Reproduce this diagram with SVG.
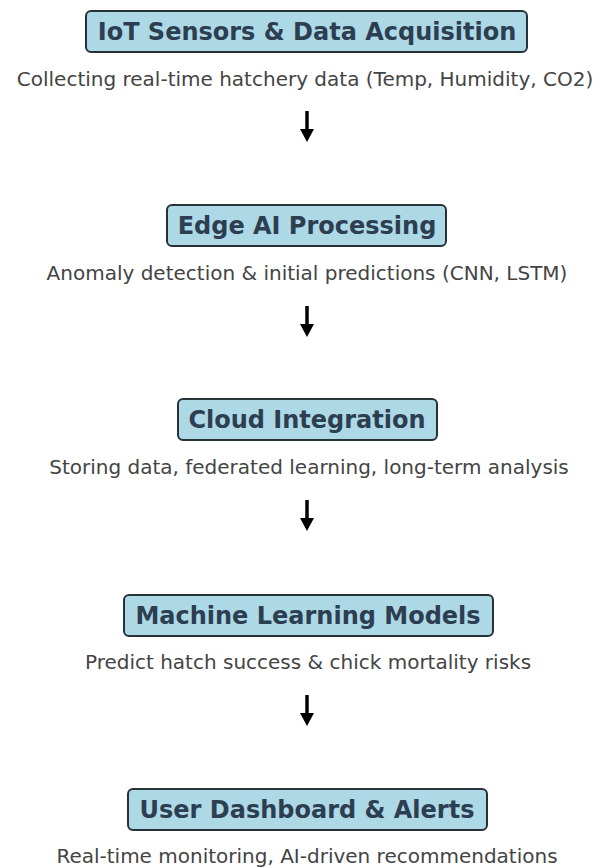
<svg xmlns="http://www.w3.org/2000/svg" width="600" height="868" viewBox="0 0 600 868">
<style>
.box{fill:#add8e6;stroke:#263238;stroke-width:2}
.title{font-family:"DejaVu Sans",sans-serif;font-weight:bold;font-size:24px;fill:#2c3e50;text-anchor:middle}
.sub{font-family:"DejaVu Sans",sans-serif;font-size:20px;fill:#444444;text-anchor:middle}
.shaft{stroke:#000;stroke-width:3.5}
</style>
<defs>
<marker id="ah" markerWidth="14" markerHeight="13" refX="7" refY="1" orient="0" markerUnits="userSpaceOnUse" viewBox="0 0 14 13">
<path d="M0,0 L14,0 L7,13 Z" fill="#000"/>
</marker>
</defs>
<rect width="600" height="868" fill="#ffffff"/>
<g id="node1">
<rect class="box" x="86" y="11" width="441" height="41" rx="5"/>
<text class="title" x="307" y="40">IoT Sensors &amp; Data Acquisition</text>
<text class="sub" x="305" y="86">Collecting real-time hatchery data (Temp, Humidity, CO2)</text>
</g>
<g id="node2">
<rect class="box" x="167" y="205" width="279" height="41" rx="5"/>
<text class="title" x="307" y="234">Edge AI Processing</text>
<text class="sub" x="307" y="280">Anomaly detection &amp; initial predictions (CNN, LSTM)</text>
</g>
<g id="node3">
<rect class="box" x="178" y="399" width="259" height="41" rx="5"/>
<text class="title" x="307" y="428">Cloud Integration</text>
<text class="sub" x="309" y="474">Storing data, federated learning, long-term analysis</text>
</g>
<g id="node4">
<rect class="box" x="124" y="595" width="369" height="41" rx="5"/>
<text class="title" x="308" y="624">Machine Learning Models</text>
<text class="sub" x="308" y="669">Predict hatch success &amp; chick mortality risks</text>
</g>
<g id="node5">
<rect class="box" x="128" y="789" width="359" height="41" rx="5"/>
<text class="title" x="307" y="818">User Dashboard &amp; Alerts</text>
<text class="sub" x="307" y="863">Real-time monitoring, AI-driven recommendations</text>
</g>
<g id="connectors">
<line class="shaft" x1="307" y1="111" x2="307" y2="130" marker-end="url(#ah)"/>
<line class="shaft" x1="307" y1="306" x2="307" y2="325" marker-end="url(#ah)"/>
<line class="shaft" x1="307" y1="500" x2="307" y2="519" marker-end="url(#ah)"/>
<line class="shaft" x1="307" y1="695" x2="307" y2="714" marker-end="url(#ah)"/>
</g>
</svg>
